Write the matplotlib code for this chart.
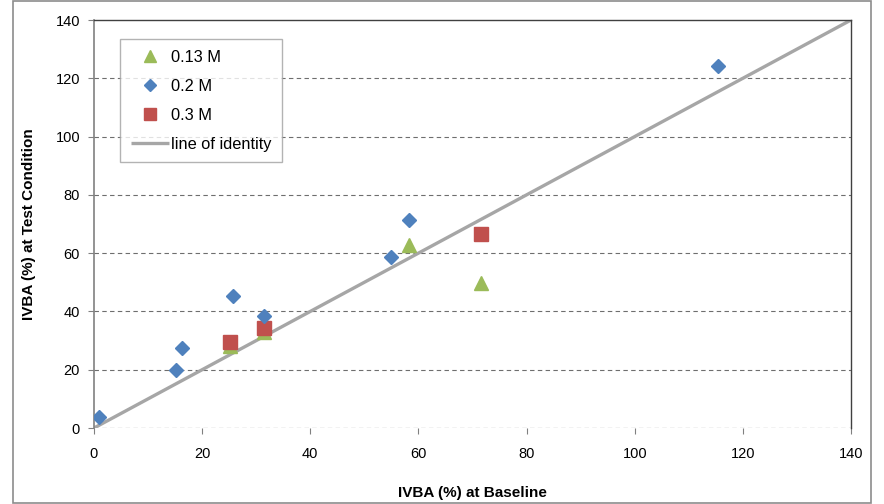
import matplotlib.pyplot as plt
from matplotlib.patches import Rectangle

# IVBA (%) at baseline vs. at test condition
x_013 = [25.2, 31.4, 58.3, 71.6]
y_013 = [28.0, 33.0, 62.8, 49.8]

x_02 = [0.9, 15.2, 16.2, 25.7, 31.4, 55.0, 58.2, 115.4]
y_02 = [3.8, 20.0, 27.6, 45.3, 38.6, 58.7, 71.4, 124.2]

x_03 = [25.2, 31.4, 71.6]
y_03 = [29.5, 34.3, 66.6]

identity = [0, 140]
ticks = [0, 20, 40, 60, 80, 100, 120, 140]

plt.rcParams['font.family'] = ['Liberation Sans', 'DejaVu Sans']

fig = plt.figure(figsize=(8.84, 5.04), dpi=100)
ax = fig.add_axes([94 / 884, 1 - 428 / 504, 757 / 884, 408 / 504])

# outer chart border
fig.patches.append(Rectangle((13 / 884, 1 / 504), 858 / 884, 502 / 504,
                             transform=fig.transFigure, fill=False,
                             edgecolor='#8c8c8c', linewidth=1.2))

ax.plot(identity, identity, color='#a6a6a6', linewidth=2.4, zorder=2,
        label='line of identity', solid_capstyle='butt')
ax.plot(x_013, y_013, linestyle='none', marker='^', markersize=10,
        color='#9bbb59', zorder=3, label='0.13 M')
ax.plot(x_02, y_02, linestyle='none', marker='D', markersize=7,
        color='#4f81bd', zorder=5, label='0.2 M')
ax.plot(x_03, y_03, linestyle='none', marker='s', markersize=9.5,
        color='#c0504d', zorder=4, label='0.3 M')

ax.set_xlim(0, 140)
ax.set_ylim(0, 140)
ax.set_xticks(ticks)
ax.set_yticks(ticks)
ax.tick_params(direction='out', length=4, width=0.8, color='#808080',
               labelsize=10.5, pad=6)
ax.tick_params(axis='x', pad=10)

for t in ticks[:-1]:
    ax.axhline(t, color='#6e6e6e' if t else '#222222', linestyle=(0, (4, 3)),
               linewidth=0.8, zorder=1)

for s in ['top', 'right']:
    ax.spines[s].set_color('#404040')
    ax.spines[s].set_linewidth(1.0)
ax.spines['left'].set_color('#808080')
ax.spines['left'].set_linewidth(1.2)
ax.spines['bottom'].set_visible(False)

ax.set_xlabel('IVBA (%) at Baseline', fontsize=11, fontweight='bold', labelpad=18)
ax.set_ylabel('IVBA (%) at Test Condition', fontsize=11, fontweight='bold', labelpad=14)

handles, labels = ax.get_legend_handles_labels()
order = [1, 2, 3, 0]
leg = ax.legend([handles[i] for i in order], [labels[i] for i in order],
                loc='upper left', bbox_to_anchor=(0.035, 0.953), borderaxespad=0,
                fontsize=11.8, frameon=True, fancybox=False,
                edgecolor='#a0a0a0', handlelength=2.3, labelspacing=0.85,
                borderpad=0.65, handletextpad=0.15, markerscale=0.85)
leg.get_frame().set_linewidth(1.0)

fig.savefig('out.png', dpi=100)
